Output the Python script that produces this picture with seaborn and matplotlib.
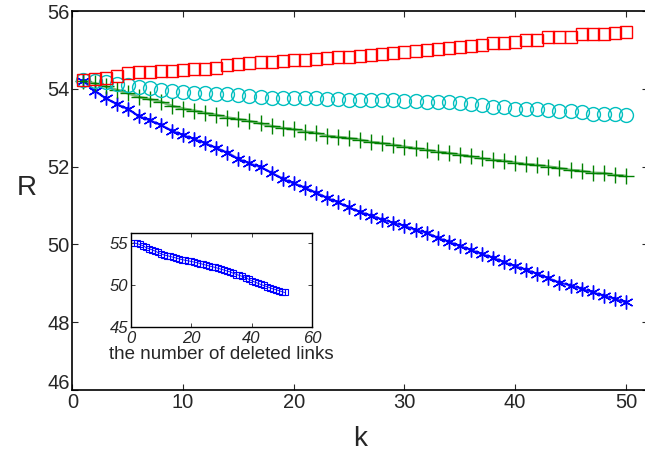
import numpy as np
import pandas as pd
import seaborn as sns
import matplotlib.pyplot as plt
import matplotlib.transforms as mtransforms

# داده‌ها (خوانده شده از تصویر)
k = list(range(1, 51))

red_sq = [54.23, 54.25, 54.29, 54.33, 54.40, 54.42, 54.43, 54.45, 54.47, 54.48,
          54.50, 54.51, 54.54, 54.61, 54.65, 54.67, 54.68, 54.69, 54.71, 54.73,
          54.75, 54.77, 54.78, 54.81, 54.82, 54.84, 54.87, 54.89, 54.93, 54.95,
          54.96, 55.00, 55.03, 55.06, 55.08, 55.10, 55.12, 55.17, 55.19, 55.21,
          55.25, 55.26, 55.32, 55.33, 55.34, 55.40, 55.40, 55.41, 55.43, 55.45]

cyan_o = [54.22, 54.20, 54.18, 54.12, 54.09, 54.05, 54.01, 53.97, 53.94, 53.93,
          53.90, 53.89, 53.87, 53.86, 53.85, 53.82, 53.79, 53.77, 53.76, 53.76,
          53.76, 53.76, 53.75, 53.74, 53.72, 53.71, 53.71, 53.71, 53.70, 53.69,
          53.68, 53.66, 53.65, 53.65, 53.63, 53.60, 53.58, 53.54, 53.52, 53.49,
          53.49, 53.48, 53.46, 53.44, 53.42, 53.40, 53.36, 53.35, 53.35, 53.33]

green_plus = [54.20, 54.14, 54.06, 53.97, 53.89, 53.79, 53.73, 53.67, 53.56, 53.49,
              53.44, 53.38, 53.33, 53.26, 53.22, 53.17, 53.11, 53.04, 52.99, 52.96,
              52.90, 52.87, 52.79, 52.76, 52.73, 52.69, 52.63, 52.60, 52.56, 52.51,
              52.47, 52.43, 52.38, 52.35, 52.30, 52.26, 52.21, 52.17, 52.15, 52.10,
              52.06, 52.04, 52.00, 51.96, 51.91, 51.89, 51.84, 51.83, 51.78, 51.76]

blue_star = [54.20, 53.95, 53.76, 53.61, 53.48, 53.30, 53.19, 53.07, 52.92, 52.81,
             52.71, 52.60, 52.48, 52.36, 52.20, 52.08, 51.99, 51.84, 51.69, 51.57,
             51.46, 51.33, 51.20, 51.08, 50.95, 50.83, 50.74, 50.64, 50.55, 50.48,
             50.37, 50.30, 50.17, 50.07, 49.96, 49.86, 49.75, 49.66, 49.54, 49.44,
             49.35, 49.24, 49.13, 49.02, 48.94, 48.86, 48.77, 48.68, 48.60, 48.51]

links = list(range(1, 52))
inset_r = [55.00, 54.92, 54.80, 54.65, 54.45, 54.30, 54.17, 54.02, 53.85, 53.70,
           53.55, 53.47, 53.38, 53.28, 53.19, 53.08, 52.99, 52.92, 52.85, 52.78,
           52.70, 52.62, 52.53, 52.43, 52.33, 52.24, 52.15, 52.06, 51.95, 51.84,
           51.74, 51.63, 51.52, 51.36, 51.22, 51.11, 50.99, 50.85, 50.66, 50.48,
           50.33, 50.19, 50.04, 49.92, 49.79, 49.65, 49.52, 49.42, 49.30, 49.18,
           49.08]

main_xticks = [0, 10, 20, 30, 40, 50]
main_yticks = [48, 50, 52, 54, 56]
inset_xticks = [0, 20, 40, 60]
inset_yticks = [45, 50, 55]

sns.set_style("ticks")
plt.rcParams['font.family'] = ['Liberation Sans', 'DejaVu Sans']

fig = plt.figure(figsize=(6.45, 4.57), dpi=100)
ax = fig.add_axes([0.1122, 0.1466, 0.8925, 0.8293])

df = pd.DataFrame({'k': k, 'red': red_sq, 'cyan': cyan_o,
                   'green': green_plus, 'blue': blue_star})

# خط و نشانگرها
sns.lineplot(data=df, x='k', y='blue', ax=ax, color='#0000ff', lw=1.8, alpha=0.5)
sns.lineplot(data=df, x='k', y='blue', ax=ax, color='#0000ff', lw=0.8,
             marker=(6, 2, 0), markersize=10, markeredgewidth=1.0,
             markeredgecolor='#0000ff')
sns.scatterplot(data=df, x='k', y='blue', ax=ax, color='#0000ff', s=10,
                edgecolor='none')
sns.lineplot(data=df, x='k', y='green', ax=ax, color='#008000', lw=2.0, alpha=0.5)
sns.lineplot(data=df, x='k', y='green', ax=ax, color='#008000', lw=0, marker='+',
             markersize=11, markeredgewidth=1.0, markeredgecolor='#008000')
sns.lineplot(data=df, x='k', y='cyan', ax=ax, color='#00bfbf', lw=0, marker='o',
             markersize=10, markeredgewidth=1.0, markeredgecolor='#00bfbf',
             markerfacecolor='none')
sns.lineplot(data=df, x='k', y='red', ax=ax, color='#ff0000', lw=0, marker='s',
             markersize=8.5, markeredgewidth=1.0, markeredgecolor='#ff0000',
             markerfacecolor='none')

ax.set_xlim(0, 52)
ax.set_ylim(46.257, 56)
ax.set_xticks(main_xticks)
ax.set_yticks([46.257] + main_yticks)
ax.set_yticklabels(['46'] + [str(v) for v in main_yticks])
ax.set_xticklabels([str(v) for v in main_xticks])
ax.tick_params(direction='in', length=4, width=0.8, labelsize=14.5,
               top=True, right=True, colors='#262626', pad=2)
# برچسب 46 کمی بالاتر، مثل تصویر اصلی
lab46 = ax.get_yticklabels()[0]
lab46.set_transform(lab46.get_transform() +
                    mtransforms.ScaledTranslation(0, 6 / 72, fig.dpi_scale_trans))
for s in ax.spines.values():
    s.set_linewidth(1.2)
    s.set_color('black')
ax.set_xlabel('k', fontsize=20, color='#262626')
ax.set_ylabel('R', fontsize=20, color='#262626', rotation=0)
ax.yaxis.set_label_coords(-0.08, 0.5)
ax.xaxis.set_label_coords(0.5, -0.095)

# نمودار کوچک داخلی
axin = fig.add_axes([0.2026, 0.2851, 0.2811, 0.2057])
ins = pd.DataFrame({'links': links, 'R': inset_r})
sns.lineplot(data=ins, x='links', y='R', ax=axin, color='#0000ff', lw=0.6,
             marker='s', markersize=4, markeredgewidth=0.8,
             markeredgecolor='#0000ff', markerfacecolor='none')
axin.set_xlim(0, 60)
axin.set_ylim(45, 56.2)
axin.set_xticks(inset_xticks)
axin.set_yticks(inset_yticks)
axin.tick_params(direction='in', length=3, width=0.6, labelsize=12,
                 top=True, right=True, colors='#262626', pad=1.5)
axin.tick_params(axis='x', pad=3)
for lab in axin.get_xticklabels() + axin.get_yticklabels():
    lab.set_style('italic')
for s in axin.spines.values():
    s.set_linewidth(1.0)
    s.set_color('black')
axin.set_xlabel('the number of deleted links', fontsize=13.5, color='#262626', labelpad=0)
axin.set_ylabel('')

fig.savefig('out.png', dpi=100)
